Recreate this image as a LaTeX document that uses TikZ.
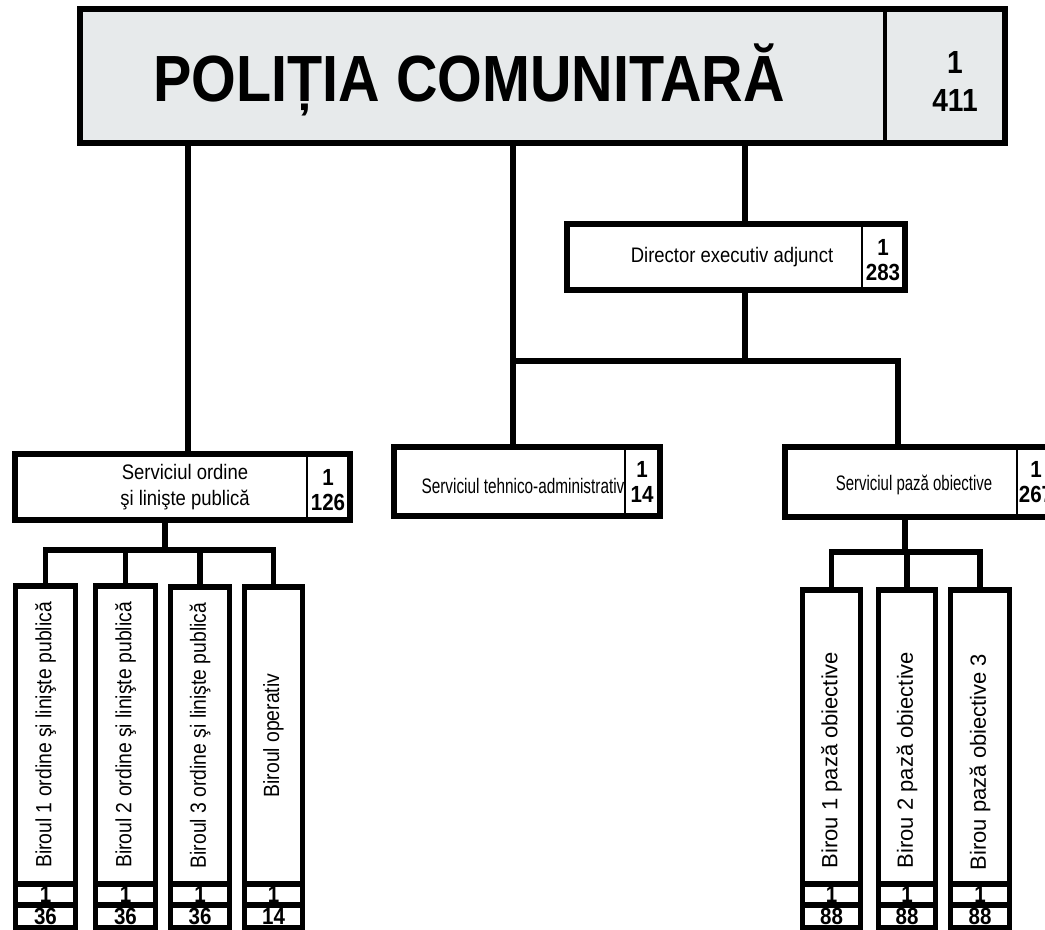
\documentclass[tikz,border=0pt]{standalone}
\usepackage{fontspec}
\setmainfont{Liberation Sans}[FakeStretch=0.88]
\newfontfamily\widesans{Liberation Sans}
\usetikzlibrary{fit}
\definecolor{topgray}{HTML}{E7EAEB}

\begin{document}
\begin{tikzpicture}[x=0.75pt,y=-0.75pt,
    box/.style={draw, line width=3.9pt, inner sep=0pt},
    conn/.style={line width=3.9pt, line join=miter},
    divider/.style={line width=1.5pt},
    txt/.style={font=\fontsize{15.75}{19}\selectfont, align=center},
    num/.style={font=\fontsize{17.5}{19}\selectfont\bfseries, align=center},
    cellnum/.style={font=\fontsize{17.5}{18}\selectfont\bfseries},
    birou/.style={rotate=90, font=\fontsize{16.5}{18}\selectfont},
    biroup/.style={rotate=90, font=\fontsize{16.5}{18}\widesans}]

    \useasboundingbox (0,0) rectangle (1045,930);

    % head box
    \node[box, fill=topgray, fit={(80,9) (1005,143)}] (top) {};
    \draw[line width=3pt] (885,9) -- (885,143);
    \node[font=\fontsize{49}{50}\selectfont\bfseries] (toptitle) at (469,80) {POLIȚIA COMUNITARĂ};
    \node[font=\fontsize{24}{28.5}\selectfont\bfseries, align=center] (topnum) at (955,81) {1\\411};

    % director
    \node[box, fit={(567,224) (905,290)}] (director) {};
    \draw[divider] (862,224) -- (862,290);
    \node[txt] (directortxt) at (732,257) {Director executiv adjunct};
    \node[num] (directornum) at (883,260) {1\\283};

    % services
    \node[box, fit={(15,454) (350,520)}] (ordine) {};
    \draw[divider] (307,454) -- (307,520);
    \node[txt] (ordinetxt) at (185,487) {Serviciul ordine\\şi linişte publică};
    \node[num] (ordinenum) at (328,490) {1\\126};

    \node[box, fit={(394,447) (660,516)}] (tehnic) {};
    \draw[divider] (625,447) -- (625,516);
    \node[txt] (tehnictxt) at (523,486) {\scalebox{0.83}[1]{Serviciul tehnico-administrativ}};
    \node[num] (tehnicnum) at (642,482) {1\\14};

    \node[box, fit={(785,447) (1062,517)}] (paza) {};
    \draw[divider] (1017,447) -- (1017,517);
    \node[txt] (pazatxt) at (914,485) {\scalebox{0.81}[1]{Serviciul pază obiective}};
    \node[num] (pazanum) at (1036,482) {1\\267};

    % junctions
    \coordinate (jo) at (188,300);
    \coordinate (busA) at (513,361);
    \coordinate (jd) at (745,361);
    \coordinate (busB) at (898,361);
    \coordinate (busL) at (165,550);
    \coordinate (busR) at (905,552);

    \draw[conn] (top.south -| jo) -- (ordine.north -| jo);
    \draw[conn] (top.south -| busA) -- (tehnic.north -| busA);
    \draw[conn] (top.south -| jd) -- (director.north -| jd);
    \draw[conn] (director.south -| jd) -- (jd);
    \draw[conn] (busA) -- (busB) -- (paza.north -| busB);

    % birouri ordine
    \node[box, fit={(15.5,586) (75.5,884)}] (b1) {};
    \node[box, fit={(15.5,884) (75.5,905)}] (b1a) {};
    \node[box, fit={(15.5,905) (75.5,928)}] (b1b) {};
    \node[birou] (b1txt) at (b1) {Biroul 1 ordine şi linişte publică};
    \node[cellnum] at (b1a) {1};
    \node[cellnum] at (b1b) {36};

    \node[box, fit={(95.5,586) (155.5,884)}] (b2) {};
    \node[box, fit={(95.5,884) (155.5,905)}] (b2a) {};
    \node[box, fit={(95.5,905) (155.5,928)}] (b2b) {};
    \node[birou] (b2txt) at (b2) {Biroul 2 ordine şi linişte publică};
    \node[cellnum] at (b2a) {1};
    \node[cellnum] at (b2b) {36};

    \node[box, fit={(170.5,587) (229.5,884)}] (b3) {};
    \node[box, fit={(170.5,884) (229.5,905)}] (b3a) {};
    \node[box, fit={(170.5,905) (229.5,928)}] (b3b) {};
    \node[birou] (b3txt) at (b3) {Biroul 3 ordine şi linişte publică};
    \node[cellnum] at (b3a) {1};
    \node[cellnum] at (b3b) {36};

    \node[box, fit={(244.5,587) (302.5,884)}] (b4) {};
    \node[box, fit={(244.5,884) (302.5,905)}] (b4a) {};
    \node[box, fit={(244.5,905) (302.5,928)}] (b4b) {};
    \node[birou] (b4txt) at (b4) {Biroul operativ};
    \node[cellnum] at (b4a) {1};
    \node[cellnum] at (b4b) {14};

    \draw[conn] (ordine.south -| busL) -- (busL);
    \draw[conn] (b1.north) -- (b1.north |- busL) -- (b4.north |- busL) -- (b4.north);
    \draw[conn] (b2.north) -- (b2.north |- busL);
    \draw[conn] (b3.north) -- (b3.north |- busL);

    % birouri paza
    \node[box, fit={(802.5,590) (860.5,884)}] (p1) {};
    \node[box, fit={(802.5,884) (860.5,905)}] (p1a) {};
    \node[box, fit={(802.5,905) (860.5,928)}] (p1b) {};
    \node[biroup] (p1txt) at (831.5,760) {Birou 1 pază obiective};
    \node[cellnum] at (p1a) {1};
    \node[cellnum] at (p1b) {88};

    \node[box, fit={(878.5,590) (935.5,884)}] (p2) {};
    \node[box, fit={(878.5,884) (935.5,905)}] (p2a) {};
    \node[box, fit={(878.5,905) (935.5,928)}] (p2b) {};
    \node[biroup] (p2txt) at (907,760) {Birou 2 pază obiective};
    \node[cellnum] at (p2a) {1};
    \node[cellnum] at (p2b) {88};

    \node[box, fit={(950.5,590) (1009.5,884)}] (p3) {};
    \node[box, fit={(950.5,884) (1009.5,905)}] (p3a) {};
    \node[box, fit={(950.5,905) (1009.5,928)}] (p3b) {};
    \node[biroup] (p3txt) at (980,762) {Birou pază obiective 3};
    \node[cellnum] at (p3a) {1};
    \node[cellnum] at (p3b) {88};

    \draw[conn] (paza.south -| busR) -- (busR);
    \draw[conn] (p1.north) -- (p1.north |- busR) -- (p3.north |- busR) -- (p3.north);
    \draw[conn] (p2.north) -- (p2.north |- busR);

\end{tikzpicture}
\end{document}
